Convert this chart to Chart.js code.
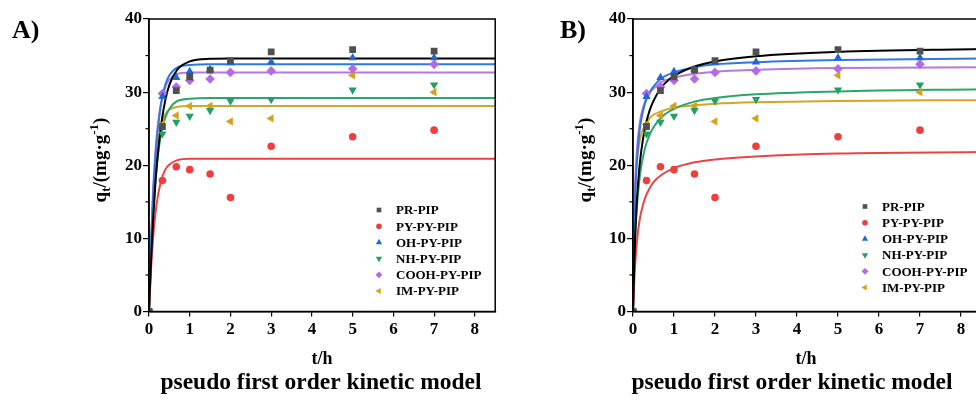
<!DOCTYPE html>
<html>
<head>
<meta charset="utf-8">
<script src="https://cdn.jsdelivr.net/npm/chart.js@4.4.1/dist/chart.umd.min.js"></script>
<style>
html,body{margin:0;padding:0;background:#fff;width:976px;height:401px;overflow:hidden}
.panel{position:absolute;top:0;height:401px}
#pa{left:0;width:500px}
#pb{left:480px;width:510px}
</style>
</head>
<body>
<div class="panel" id="pa"><canvas id="chartA"></canvas></div>
<div class="panel" id="pb"><canvas id="chartB"></canvas></div>
<script>
/* ---------- measured points (same in both panels) ---------- */
const T      = [0, 0.33, 0.67, 1, 1.5, 2, 3, 5, 7];
const PR     = [0, 25.3, 30.2, 32.1, 33.0, 34.3, 35.5, 35.8, 35.6];
const PY     = [0, 17.9, 19.8, 19.4, 18.8, 15.6, 22.6, 23.9, 24.8];
const OH     = [0, 29.4, 32.0, 32.8, 33.1, 34.0, 34.1, 34.7, 34.7];
const NH     = [0, 24.3, 25.9, 26.7, 27.5, 28.8, 29.0, 30.3, 31.0];
const COOH   = [0, 29.8, 30.7, 31.6, 31.8, 32.7, 32.9, 33.2, 33.8];
const IM     = [0, 25.6, 26.8, 28.1, 28.1, 26.0, 26.4, 32.3, 30.0];

/* ---------- fitted curves ---------- */
const FIT_T  = [0, 0.05, 0.1, 0.15, 0.2, 0.3, 0.4, 0.5, 0.7, 1, 1.5, 2, 3, 5, 8.5];
// panel A
const PR_A   = [0, 6.9, 12.5, 17.0, 20.5, 25.6, 28.9, 31.0, 33.1, 34.2, 34.55, 34.6, 34.6, 34.6, 34.6];
const PY_A   = [0, 5.8, 10.0, 13.0, 15.2, 17.9, 19.4, 20.1, 20.7, 20.9, 20.9, 20.9, 20.9, 20.9, 20.9];
const OH_A   = [0, 9.0, 15.6, 20.5, 24.0, 28.5, 31.0, 32.3, 33.4, 33.7, 33.8, 33.8, 33.8, 33.8, 33.8];
const NH_A   = [0, 7.6, 13.2, 17.3, 20.4, 24.4, 26.5, 27.7, 28.8, 29.1, 29.2, 29.2, 29.2, 29.2, 29.2];
const COOH_A = [0, 9.6, 16.5, 21.3, 24.6, 28.7, 30.7, 31.7, 32.5, 32.7, 32.7, 32.7, 32.7, 32.7, 32.7];
const IM_A   = [0, 9.3, 15.5, 19.6, 22.5, 25.6, 27.0, 27.6, 28.0, 28.1, 28.1, 28.1, 28.1, 28.1, 28.1];
// panel B
const PR_B   = [0, 9.9, 15.6, 19.3, 21.9, 25.3, 27.4, 28.8, 30.7, 32.2, 33.5, 34.2, 34.9, 35.5, 35.9];
const PY_B   = [0, 6.3, 9.8, 12.1, 13.6, 15.6, 16.8, 17.7, 18.7, 19.6, 20.4, 20.8, 21.2, 21.6, 21.8];
const OH_B   = [0, 15.0, 20.9, 24.2, 26.2, 28.6, 29.9, 30.8, 31.9, 32.7, 33.4, 33.8, 34.1, 34.4, 34.6];
const NH_B   = [0, 9.6, 14.6, 17.7, 19.8, 22.5, 24.1, 25.2, 26.6, 27.7, 28.7, 29.2, 29.7, 30.1, 30.4];
const COOH_B = [0, 16.8, 22.4, 25.2, 26.9, 28.8, 29.9, 30.5, 31.4, 32.0, 32.5, 32.8, 33.05, 33.3, 33.4];
const IM_B   = [0, 16.1, 20.7, 22.9, 24.2, 25.6, 26.4, 26.9, 27.4, 27.9, 28.2, 28.4, 28.6, 28.8, 28.9];

const NAMES = ['PR-PIP','PY-PY-PIP','OH-PY-PIP','NH-PY-PIP','COOH-PY-PIP','IM-PY-PIP'];
const X_TICKS = [0,1,2,3,4,5,6,7,8];
const Y_TICKS = [0,10,20,30,40];
const Y_MINOR = [5,15,25,35];

/* ---------- styles ---------- */
const SERIF = "'Liberation Serif','Times New Roman',serif";
const MARK = [
  {color:'#505050', line:'#000000', style:'rect',     r:4.8, rot:0,   lr:3.3},
  {color:'#ef3e3e', line:'#e84545', style:'circle',   r:3.8, rot:0,   lr:2.8},
  {color:'#2166d5', line:'#2f78dd', style:'triangle', r:4.8, rot:0,   lr:3.6},
  {color:'#23a064', line:'#2aa669', style:'triangle', r:4.8, rot:180, lr:3.6},
  {color:'#b36ae3', line:'#b57ad9', style:'rectRot',  r:4.8, rot:0,   lr:3.4},
  {color:'#d6a11d', line:'#d4a52a', style:'triangle', r:4.8, rot:-90, lr:3.6}
];
const pts = (xs, ys) => xs.map((x,i)=>({x, y:ys[i]}));

/* ---------- decorations plugin ---------- */
const deco = {
  id:'deco',
  afterDraw(chart, args, o){
    const {ctx, chartArea:a, scales:{y}} = chart;
    ctx.save();
    // frame
    ctx.strokeStyle='#000'; ctx.lineWidth=1.5;
    ctx.strokeRect(a.left, a.top, a.right-a.left, a.bottom-a.top);
    // minor y ticks
    ctx.lineWidth=1.2;
    Y_MINOR.forEach(v=>{
      const py=y.getPixelForValue(v);
      ctx.beginPath(); ctx.moveTo(a.left-3.5,py); ctx.lineTo(a.left,py); ctx.stroke();
    });
    ctx.fillStyle='#000';
    // panel letter
    ctx.font=`bold 26px ${SERIF}`; ctx.textAlign='left'; ctx.textBaseline='alphabetic';
    ctx.fillText(o.letter, o.letterX, 38);
    // x title and caption
    ctx.textAlign='center';
    ctx.font=`bold 18px ${SERIF}`;
    ctx.fillText('t/h', o.thX, 364);
    ctx.font=`bold 23.5px ${SERIF}`;
    ctx.fillText('pseudo first order kinetic model', o.capX, 389);
    // y title with sub/superscript
    ctx.translate(o.ytX, 160); ctx.rotate(-Math.PI/2);
    const parts=[
      {t:'q', f:`bold 19px ${SERIF}`, dy:0},
      {t:'t', f:`bold 13px ${SERIF}`, dy:4},
      {t:'/(mg·g', f:`bold 19px ${SERIF}`, dy:0},
      {t:'-1', f:`bold 13px ${SERIF}`, dy:-8},
      {t:')', f:`bold 19px ${SERIF}`, dy:0}
    ];
    let w=0;
    parts.forEach(p=>{ctx.font=p.f; p.w=ctx.measureText(p.t).width; w+=p.w;});
    let x=-w/2;
    ctx.textAlign='left';
    parts.forEach(p=>{ctx.font=p.f; ctx.fillText(p.t, x, 6+p.dy); x+=p.w;});
    ctx.setTransform(1,0,0,1,0,0);
    // legend
    ctx.font=`bold 13px ${SERIF}`; ctx.textBaseline='middle'; ctx.textAlign='left';
    NAMES.forEach((n,i)=>{
      const m=MARK[i], yy=o.legY+i*o.legStep;
      ctx.fillStyle=m.color;
      Chart.helpers.drawPoint(ctx,{pointStyle:m.style, radius:m.lr, rotation:m.rot, borderWidth:0}, o.legX, yy);
      ctx.fillStyle='#000';
      ctx.fillText(n, o.legX+17, yy+1);
    });
    ctx.restore();
  }
};

function makeChart(id, fits, o){
  const ptSets = [PR,PY,OH,NH,COOH,IM].map((ys,i)=>({
    type:'scatter', label:NAMES[i], data:pts(T,ys), order:1,
    pointStyle:MARK[i].style, pointRadius:MARK[i].r, pointRotation:MARK[i].rot,
    backgroundColor:MARK[i].color, borderColor:MARK[i].color, borderWidth:0
  }));
  const lineSets = fits.map((ys,i)=>({
    type:'scatter', label:NAMES[i]+' fit', data:pts(FIT_T,ys), order:2,
    showLine:true, pointRadius:0, borderColor:MARK[i].line, borderWidth:2,
    cubicInterpolationMode:'monotone', fill:false
  }));
  return new Chart(document.getElementById(id),{
    type:'scatter',
    data:{datasets:[...lineSets, ...ptSets]},
    options:{
      animation:false, responsive:true, maintainAspectRatio:false,
      layout:{padding:{left:0, right:o.padR, top:19, bottom:0}},
      plugins:{legend:{display:false}, tooltip:{enabled:false}, deco:o},
      scales:{
        x:{
          type:'linear', min:0, max:8.5,
          afterBuildTicks:s=>{s.ticks=X_TICKS.map(v=>({value:v}));},
          afterFit:s=>{s.height=89.5;},
          border:{display:true, color:'#000', width:1.5},
          grid:{display:true, drawOnChartArea:false, drawTicks:true, tickLength:5, color:'#000', lineWidth:1.2},
          ticks:{color:'#000', padding:3, maxRotation:0, font:{family:SERIF, weight:'bold', size:17}}
        },
        y:{
          type:'linear', min:0, max:40,
          afterBuildTicks:s=>{s.ticks=Y_TICKS.map(v=>({value:v}));},
          afterFit:s=>{s.width=o.left;},
          border:{display:true, color:'#000', width:1.5},
          grid:{display:true, drawOnChartArea:false, drawTicks:true, tickLength:6, color:'#000', lineWidth:1.2},
          ticks:{color:'#000', padding:1, font:{family:SERIF, weight:'bold', size:17}}
        }
      }
    },
    plugins:[deco]
  });
}

makeChart('chartA', [PR_A,PY_A,OH_A,NH_A,COOH_A,IM_A], {
  left:149, padR:4, letter:'A)', letterX:12, thX:322, capX:321, ytX:100,
  legX:379, legY:210, legStep:16.2
});
makeChart('chartB', [PR_B,PY_B,OH_B,NH_B,COOH_B,IM_B], {
  left:153, padR:8.5, letter:'B)', letterX:80, thX:326, capX:312, ytX:105,
  legX:385, legY:206.5, legStep:16.2
});
</script>
</body>
</html>
